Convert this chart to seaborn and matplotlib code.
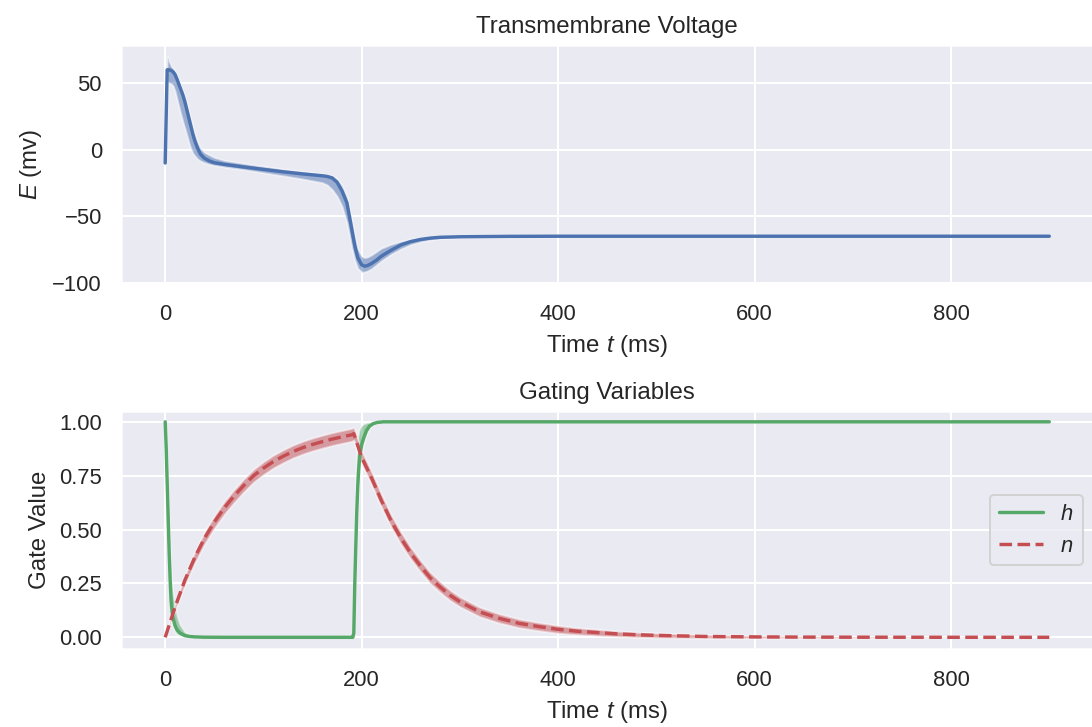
import numpy as np
import matplotlib
matplotlib.use("Agg")
import matplotlib.pyplot as plt
import seaborn as sns

# ---- membrane voltage (mV): mean trace and spread envelope ----
t_v = [0, 2, 4, 6, 8, 10, 12, 15, 18, 20, 22, 25, 28, 30, 33, 36, 40, 45, 50, 60,
       80, 100, 120, 140, 160, 165, 170, 175, 180, 185, 190, 193, 196, 200, 203,
       206, 210, 215, 220, 230, 240, 250, 260, 270, 280, 300, 350, 400, 500, 600,
       700, 800, 900]
v_mean = [-10, 60, 60, 59.5, 58.5, 56.5, 53, 47, 41, 36, 30, 21, 12, 7, 1, -3.5,
          -6.5, -8.5, -9.8, -11, -13, -14.8, -16.6, -18.2, -19.6, -20.1, -21.2,
          -24.5, -31, -40, -60, -72, -81, -86.5, -87.5, -87, -85.5, -83, -80,
          -75.5, -71.5, -69, -67.4, -66.4, -65.8, -65.4, -65.1, -65, -65, -65, -65,
          -65, -65]
v_low = [-10, 51, 50, 49.5, 48, 44, 38, 29, 21, 16, 11, 3, -2.5, -4.5, -7, -8.5,
         -9.8, -11, -11.8, -13, -15, -17.3, -19.6, -22, -24.8, -26.5, -30, -35,
         -42.5, -55, -74, -83, -89, -92, -91.8, -91, -89.5, -86.5, -83.5, -78.5,
         -74.5, -71.3, -69.2, -67.7, -66.8, -66, -65.5, -65.3, -65.3, -65.3,
         -65.3, -65.3, -65.3]
v_high = [-10, 70.5, 66.5, 63, 61, 58.5, 55.5, 49.5, 44, 40, 35, 26, 17, 12, 5.5,
          1, -2, -4, -5.8, -8, -10.3, -12.5, -14.6, -16.4, -18.2, -18.8, -19.8,
          -22, -27, -35.5, -53, -65, -74.5, -80, -81, -80.5, -79, -76.5, -74,
          -71, -68.8, -67.2, -66.2, -65.6, -65.2, -64.9, -64.8, -64.8, -64.8,
          -64.8, -64.8, -64.8, -64.8]

# ---- inactivation gate h ----
t_h = [0, 1, 2, 3, 4, 5, 6, 7, 8, 10, 12, 15, 20, 25, 30, 40, 60, 100, 150, 190,
       191, 192, 193, 194, 195, 196, 197, 198, 200, 202, 205, 208, 212, 216, 222,
       230, 300, 400, 500, 600, 700, 800, 900]
h_mean = [1.0, 0.88, 0.72, 0.56, 0.40, 0.27, 0.17, 0.12, 0.09, 0.055, 0.035, 0.02,
          0.008, 0.004, 0.002, 0.0005, 0, 0, 0, 0,
          0, 0.02, 0.25, 0.42, 0.58, 0.70, 0.78, 0.84, 0.895, 0.925, 0.96, 0.98,
          0.992, 0.997, 1.0, 1.0, 1.0, 1.0, 1.0, 1.0, 1.0, 1.0, 1.0]
h_low = [1.0, 0.85, 0.66, 0.48, 0.32, 0.20, 0.12, 0.07, 0.05, 0.025, 0.015, 0.008,
         0.003, 0.001, 0, 0, 0, 0, 0, 0,
         0, 0, 0.16, 0.33, 0.49, 0.62, 0.72, 0.79, 0.86, 0.90, 0.945, 0.972,
         0.987, 0.995, 1.0, 1.0, 1.0, 1.0, 1.0, 1.0, 1.0, 1.0, 1.0]
h_high = [1.0, 0.91, 0.78, 0.65, 0.52, 0.40, 0.30, 0.24, 0.20, 0.15, 0.10, 0.06,
          0.025, 0.012, 0.006, 0.001, 0, 0, 0, 0,
          0.02, 0.14, 0.50, 0.74, 0.87, 0.93, 0.955, 0.97, 0.984, 0.991, 0.996,
          0.998, 0.999, 1.0, 1.0, 1.0, 1.0, 1.0, 1.0, 1.0, 1.0, 1.0, 1.0]

# ---- activation gate n ----
t_n = [0, 10, 20, 30, 40, 50, 60, 70, 80, 90, 100, 110, 120, 130, 140, 150, 160,
       170, 180, 190, 192, 200, 210, 220, 230, 240, 250, 260, 270, 280, 290, 300,
       320, 340, 360, 380, 400, 420, 440, 460, 480, 500, 550, 600, 650, 700, 800, 900]
n_mean = [0, 0.14, 0.265, 0.37, 0.46, 0.535, 0.60, 0.655, 0.705, 0.75, 0.785,
          0.815, 0.84, 0.862, 0.88, 0.895, 0.908, 0.92, 0.93, 0.94, 0.945,
          0.835, 0.74, 0.635, 0.54, 0.46, 0.39, 0.33, 0.275, 0.233, 0.195, 0.165,
          0.118, 0.088, 0.065, 0.05, 0.037, 0.028, 0.022, 0.016, 0.012, 0.009,
          0.004, 0.002, 0.001, 0.0005, 0.0001, 0.0]
n_spread = [0, 0.015, 0.022, 0.026, 0.028, 0.029, 0.03, 0.03, 0.03, 0.03,
            0.03, 0.03, 0.03, 0.03, 0.03, 0.03, 0.03, 0.03, 0.03, 0.03,
            0.03, 0.03, 0.03, 0.03, 0.029, 0.029, 0.028, 0.027, 0.026, 0.025,
            0.024, 0.023, 0.022, 0.021, 0.02, 0.019, 0.018, 0.016, 0.015, 0.013,
            0.012, 0.011, 0.008, 0.006, 0.004, 0.003, 0.001, 0.0]

sns.set_theme(style="darkgrid", context="notebook", font="Liberation Sans")
plt.rcParams["mathtext.fontset"] = "custom"
plt.rcParams["mathtext.it"] = "Liberation Sans:italic"
plt.rcParams["mathtext.rm"] = "Liberation Sans"
plt.rcParams["xtick.major.pad"] = 4.5

pal = sns.color_palette("deep")
blue, green, red = pal[0], pal[2], pal[3]

W, H, DPI = 1092, 727, 144
fig = plt.figure(figsize=(W / DPI, H / DPI), dpi=DPI)
ax1 = fig.add_axes([121 / W, 1 - 283 / H, 972.5 / W, 238 / H])
ax2 = fig.add_axes([121 / W, 1 - 649 / H, 972.5 / W, 238 / H])

# voltage panel
ax1.fill_between(t_v, v_low, v_high, facecolor=blue, alpha=0.5)
sns.lineplot(x=t_v, y=v_mean, ax=ax1, color=blue, linewidth=1.7)
ax1.set_title("Transmembrane Voltage")
ax1.set_xlabel("Time $t$ (ms)")
ax1.set_ylabel("$E$ (mv)")

# gating panel
n_arr = np.array(n_mean)
n_sp = np.array(n_spread)
ax2.fill_between(t_h, h_low, h_high, facecolor=green, alpha=0.5)
sns.lineplot(x=t_h, y=h_mean, ax=ax2, color=green, linewidth=1.7, label="$h$")
ax2.fill_between(t_n, n_arr - n_sp, n_arr + n_sp, facecolor=red, alpha=0.5)
sns.lineplot(x=t_n, y=n_mean, ax=ax2, color=red, linewidth=1.7, linestyle="--",
             label="$n$")
ax2.set_title("Gating Variables")
ax2.set_xlabel("Time $t$ (ms)")
ax2.set_ylabel("Gate Value")
ax2.legend(loc="center right")

fig.savefig("out.png", dpi=DPI)
